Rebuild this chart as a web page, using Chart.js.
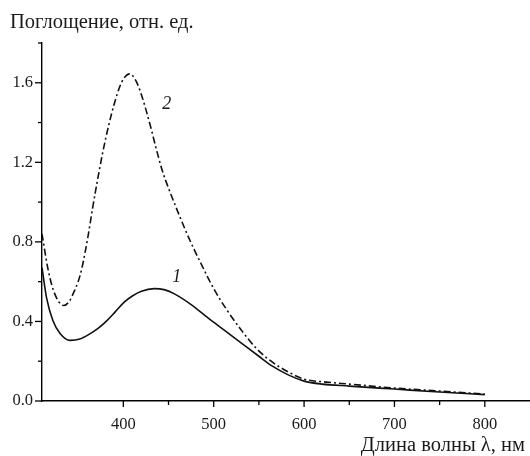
<!DOCTYPE html>
<html>
<head>
<meta charset="utf-8">
<script src="https://cdn.jsdelivr.net/npm/chart.js@4/dist/chart.umd.min.js"></script>
<style>
  html, body { margin: 0; padding: 0; background: #fff; }
  #wrap { width: 530px; height: 456px; position: relative; }
</style>
</head>
<body>
<div id="wrap"><canvas id="chartSpectra"></canvas></div>
<script>
// длины волн (нм) и поглощение
const lambda1 = [310, 315, 322, 330, 341, 352, 362, 372, 381, 391, 401, 410, 420, 434, 445, 456, 475, 493, 512, 531, 550, 565, 583, 600, 620, 650, 700, 750, 800];
const absorb1 = [0.67, 0.52, 0.405, 0.34, 0.305, 0.312, 0.335, 0.365, 0.4, 0.448, 0.497, 0.528, 0.552, 0.565, 0.56, 0.54, 0.485, 0.42, 0.355, 0.29, 0.225, 0.175, 0.13, 0.10, 0.085, 0.075, 0.06, 0.045, 0.032];

const lambda2 = [310, 317, 324, 334, 340, 346, 350, 354, 361, 366, 371, 377, 384, 390, 396, 401, 407, 414, 420, 425, 431, 436, 443, 450, 456, 471, 486, 500, 515, 530, 547, 565, 583, 600, 625, 650, 700, 750, 800];
const absorb2 = [0.84, 0.655, 0.54, 0.48, 0.5, 0.555, 0.6, 0.665, 0.83, 0.97, 1.1, 1.245, 1.39, 1.495, 1.58, 1.625, 1.645, 1.61, 1.54, 1.465, 1.365, 1.275, 1.16, 1.07, 1.0, 0.835, 0.69, 0.565, 0.455, 0.36, 0.265, 0.195, 0.145, 0.11, 0.095, 0.085, 0.065, 0.05, 0.035];

const curveLabels = ["1", "2"];
const labelLambda = [459, 448];
const labelValue = [0.62, 1.49];

const xMajor = [400, 500, 600, 700, 800];
const yMajor = [0.0, 0.4, 0.8, 1.2, 1.6];

const FONT = "'Liberation Serif', 'Times New Roman', serif";

function toPoints(xs, ys) {
    return xs.map((x, i) => ({ x: x, y: ys[i] }));
}

function isMajorY(v) {
    return yMajor.some(m => Math.abs(m - v) < 1e-6);
}

const decorPlugin = {
    id: 'decor',
    afterDraw(chart) {
        const ctx = chart.ctx;
        const xs = chart.scales.x;
        const ys = chart.scales.y;
        ctx.save();
        ctx.strokeStyle = '#000';
        ctx.lineWidth = 1.3;
        // ticks: outward, minor ticks shorter
        xs.ticks.forEach(t => {
            const px = xs.getPixelForValue(t.value);
            const len = xMajor.includes(t.value) ? 6 : 4;
            ctx.beginPath();
            ctx.moveTo(px, xs.top);
            ctx.lineTo(px, xs.top + len);
            ctx.stroke();
        });
        ys.ticks.forEach(t => {
            const py = ys.getPixelForValue(t.value);
            const len = isMajorY(t.value) ? 7 : 4;
            ctx.beginPath();
            ctx.moveTo(ys.right, py);
            ctx.lineTo(ys.right - len, py);
            ctx.stroke();
        });
        ctx.fillStyle = '#1a1a1a';
        ctx.font = '20.5px ' + FONT;
        ctx.textBaseline = 'alphabetic';
        ctx.textAlign = 'left';
        ctx.fillText('Поглощение, отн. ед.', 10, 28);
        ctx.textAlign = 'right';
        ctx.fillText('Длина волны λ, нм', 525, 451);
        ctx.font = 'italic 18px ' + FONT;
        ctx.textAlign = 'center';
        ctx.textBaseline = 'middle';
        curveLabels.forEach((s, i) => {
            ctx.fillText(s, xs.getPixelForValue(labelLambda[i]), ys.getPixelForValue(labelValue[i]));
        });
        ctx.restore();
    }
};

showSpectra();

function showSpectra() {
    const ctx = document.getElementById('chartSpectra').getContext('2d');
    new Chart(ctx, {
        type: 'line',
        data: {
            datasets: [
                {
                    label: '1',
                    data: toPoints(lambda1, absorb1),
                    borderColor: '#111',
                    borderWidth: 1.6,
                    pointRadius: 0,
                    cubicInterpolationMode: 'monotone',
                },
                {
                    label: '2',
                    data: toPoints(lambda2, absorb2),
                    borderColor: '#111',
                    borderWidth: 1.6,
                    borderDash: [7, 3, 2, 3],
                    pointRadius: 0,
                    cubicInterpolationMode: 'monotone',
                },
            ]
        },
        options: {
            responsive: true,
            maintainAspectRatio: false,
            animation: false,
            layout: {
                padding: { top: 43, right: 0, bottom: 0, left: 0 }
            },
            scales: {
                x: {
                    type: 'linear',
                    min: 310,
                    max: 850,
                    afterFit: scale => {
                        scale.height = 55;
                        scale.paddingRight = 0;
                    },
                    afterBuildTicks: scale => {
                        scale.ticks = scale.ticks.filter(t => t.value % 50 === 0 && t.value < 850);
                    },
                    ticks: {
                        stepSize: 50,
                        autoSkip: false,
                        maxRotation: 0,
                        padding: 8,
                        color: '#1a1a1a',
                        font: { family: FONT, size: 16.5 },
                        callback: v => xMajor.includes(v) ? String(v) : ''
                    },
                    grid: {
                        drawOnChartArea: false,
                        drawTicks: true,
                        tickLength: 6,
                        tickColor: 'rgba(0,0,0,0)'
                    },
                    border: { display: true, color: '#000', width: 1.4 }
                },
                y: {
                    min: 0,
                    max: 1.8,
                    afterFit: scale => { scale.width = 42; },
                    ticks: {
                        stepSize: 0.2,
                        autoSkip: false,
                        padding: 2,
                        color: '#1a1a1a',
                        font: { family: FONT, size: 16.5 },
                        callback: v => isMajorY(v) ? v.toFixed(1) : ''
                    },
                    grid: {
                        drawOnChartArea: false,
                        drawTicks: true,
                        tickLength: 7,
                        tickColor: 'rgba(0,0,0,0)'
                    },
                    border: { display: true, color: '#000', width: 1.4 }
                }
            },
            plugins: {
                legend: {
                    display: false
                },
                title: {
                    display: false
                },
                tooltip: {
                    enabled: false
                }
            }
        },
        plugins: [decorPlugin]
    });
}
</script>
</body>
</html>
